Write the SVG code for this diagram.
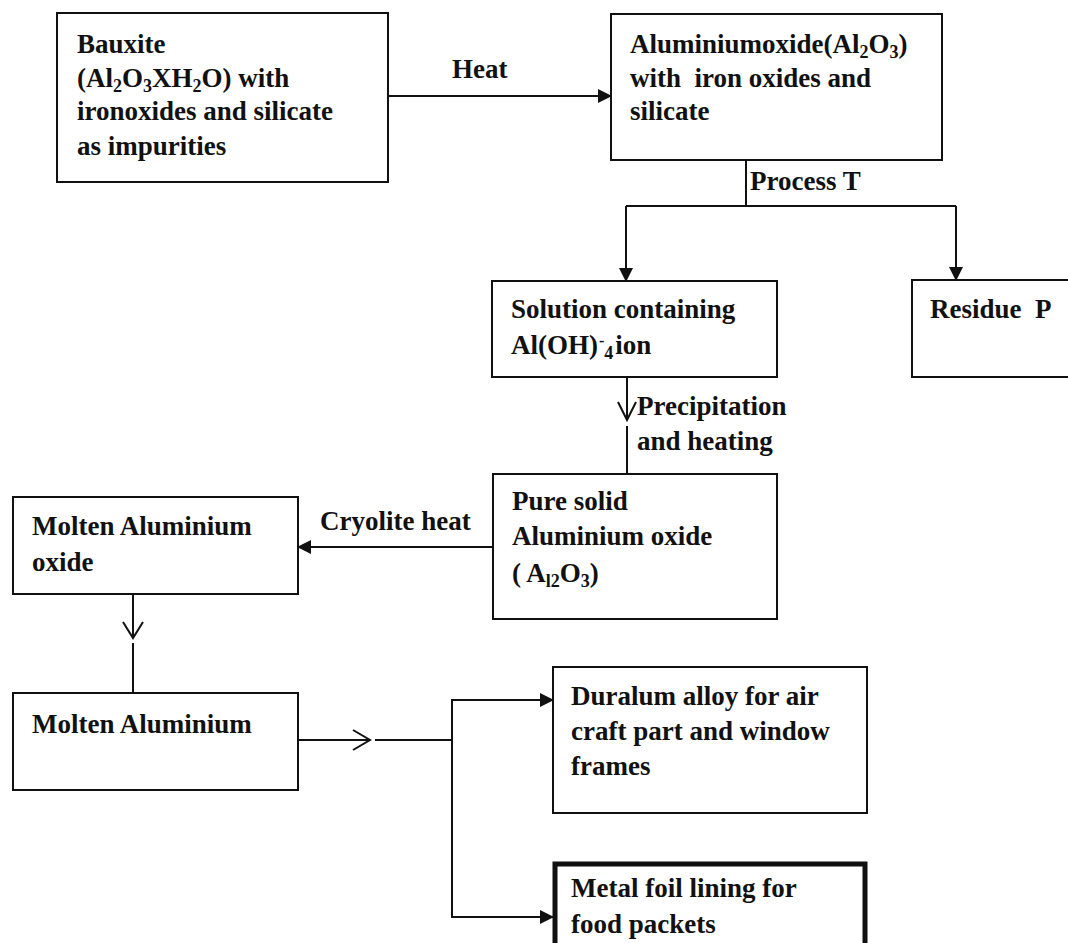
<svg xmlns="http://www.w3.org/2000/svg" width="1068" height="943" viewBox="0 0 1068 943">
<style>
text{font-family:"Liberation Serif","Times New Roman",serif;font-weight:bold;font-size:27px;fill:#111;white-space:pre}
.box{fill:#fff;stroke:#111;stroke-width:2}
.thick{fill:#fff;stroke:#111;stroke-width:5}
.ln{fill:none;stroke:#111;stroke-width:2}
.sub{font-size:18px}
.sup{font-size:16px}
</style>
<defs>
<marker id="ah" markerUnits="userSpaceOnUse" markerWidth="14" markerHeight="14" refX="13" refY="7" orient="auto">
<path d="M0,0 L14,7 L0,14 z" fill="#111"/>
</marker>
</defs>
<rect width="1068" height="943" fill="#fff"/>
<g id="connectors">
<line class="ln" x1="389" y1="96" x2="611" y2="96" marker-end="url(#ah)"/>
<polyline class="ln" points="746,160 746,206"/>
<polyline class="ln" points="626,206 956,206"/>
<line class="ln" x1="626" y1="206" x2="626" y2="281" marker-end="url(#ah)"/>
<line class="ln" x1="956" y1="206" x2="956" y2="280" marker-end="url(#ah)"/>
<line class="ln" x1="627" y1="377" x2="627" y2="420"/>
<polyline class="ln" points="618,402 627,420 636,402"/>
<line class="ln" x1="627" y1="426" x2="627" y2="474"/>
<line class="ln" x1="493" y1="547" x2="298" y2="547" marker-end="url(#ah)"/>
<line class="ln" x1="133" y1="594" x2="133" y2="638"/>
<polyline class="ln" points="123,622 133,638 143,622"/>
<line class="ln" x1="133" y1="643" x2="133" y2="693"/>
<line class="ln" x1="298" y1="740" x2="370" y2="740"/>
<polyline class="ln" points="353,730 370,740 353,750"/>
<line class="ln" x1="375" y1="740" x2="452" y2="740"/>
<polyline class="ln" points="452,700 452,917"/>
<line class="ln" x1="451" y1="700" x2="553" y2="700" marker-end="url(#ah)"/>
<line class="ln" x1="451" y1="917" x2="553" y2="917" marker-end="url(#ah)"/>
<text x="452" y="78">Heat</text>
<text x="750" y="190">Process T</text>
<text x="637" y="415">Precipitation</text>
<text x="637" y="450">and heating</text>
<text x="320" y="530">Cryolite heat</text>
</g>
<g id="bauxite">
<rect class="box" x="57" y="13" width="331" height="169"/>
<text x="77" y="53">Bauxite</text>
<text x="77" y="87">(Al<tspan class="sub" dy="5">2</tspan><tspan dy="-5">O</tspan><tspan class="sub" dy="5">3</tspan><tspan dy="-5">XH</tspan><tspan class="sub" dy="5">2</tspan><tspan dy="-5">O) with</tspan></text>
<text x="77" y="120">ironoxides and silicate</text>
<text x="77" y="155">as impurities</text>
</g>
<g id="alumina">
<rect class="box" x="611" y="14" width="331" height="146"/>
<text x="630" y="53">Aluminiumoxide(Al<tspan class="sub" dy="5">2</tspan><tspan dy="-5">O</tspan><tspan class="sub" dy="5">3</tspan><tspan dy="-5">)</tspan></text>
<text x="630" y="87">with  iron oxides and</text>
<text x="630" y="120">silicate</text>
</g>
<g id="solution">
<rect class="box" x="492" y="281" width="285" height="96"/>
<text x="511" y="318">Solution containing</text>
<text x="511" y="354">Al(OH)<tspan class="sup" dx="1" dy="-8">-</tspan><tspan class="sub" dy="13">4</tspan><tspan dx="2" dy="-5">ion</tspan></text>
</g>
<g id="residue">
<rect class="box" x="912" y="280" width="160" height="97"/>
<text x="930" y="318">Residue  P</text>
</g>
<g id="pure">
<rect class="box" x="493" y="474" width="284" height="145"/>
<text x="512" y="510">Pure solid</text>
<text x="512" y="545">Aluminium oxide</text>
<text x="512" y="582">( A<tspan class="sub" dy="5">l2</tspan><tspan dy="-5">O</tspan><tspan class="sub" dy="5">3</tspan><tspan dy="-5">)</tspan></text>
</g>
<g id="molten-oxide">
<rect class="box" x="13" y="497" width="285" height="97"/>
<text x="32" y="535">Molten Aluminium</text>
<text x="32" y="571">oxide</text>
</g>
<g id="molten-al">
<rect class="box" x="13" y="693" width="285" height="97"/>
<text x="32" y="733">Molten Aluminium</text>
</g>
<g id="duralum">
<rect class="box" x="553" y="667" width="314" height="146"/>
<text x="571" y="705">Duralum alloy for air</text>
<text x="571" y="740">craft part and window</text>
<text x="571" y="775">frames</text>
</g>
<g id="foil">
<rect class="thick" x="555" y="864" width="310" height="90"/>
<text x="571" y="897">Metal foil lining for</text>
<text x="571" y="933">food packets</text>
</g>
</svg>
